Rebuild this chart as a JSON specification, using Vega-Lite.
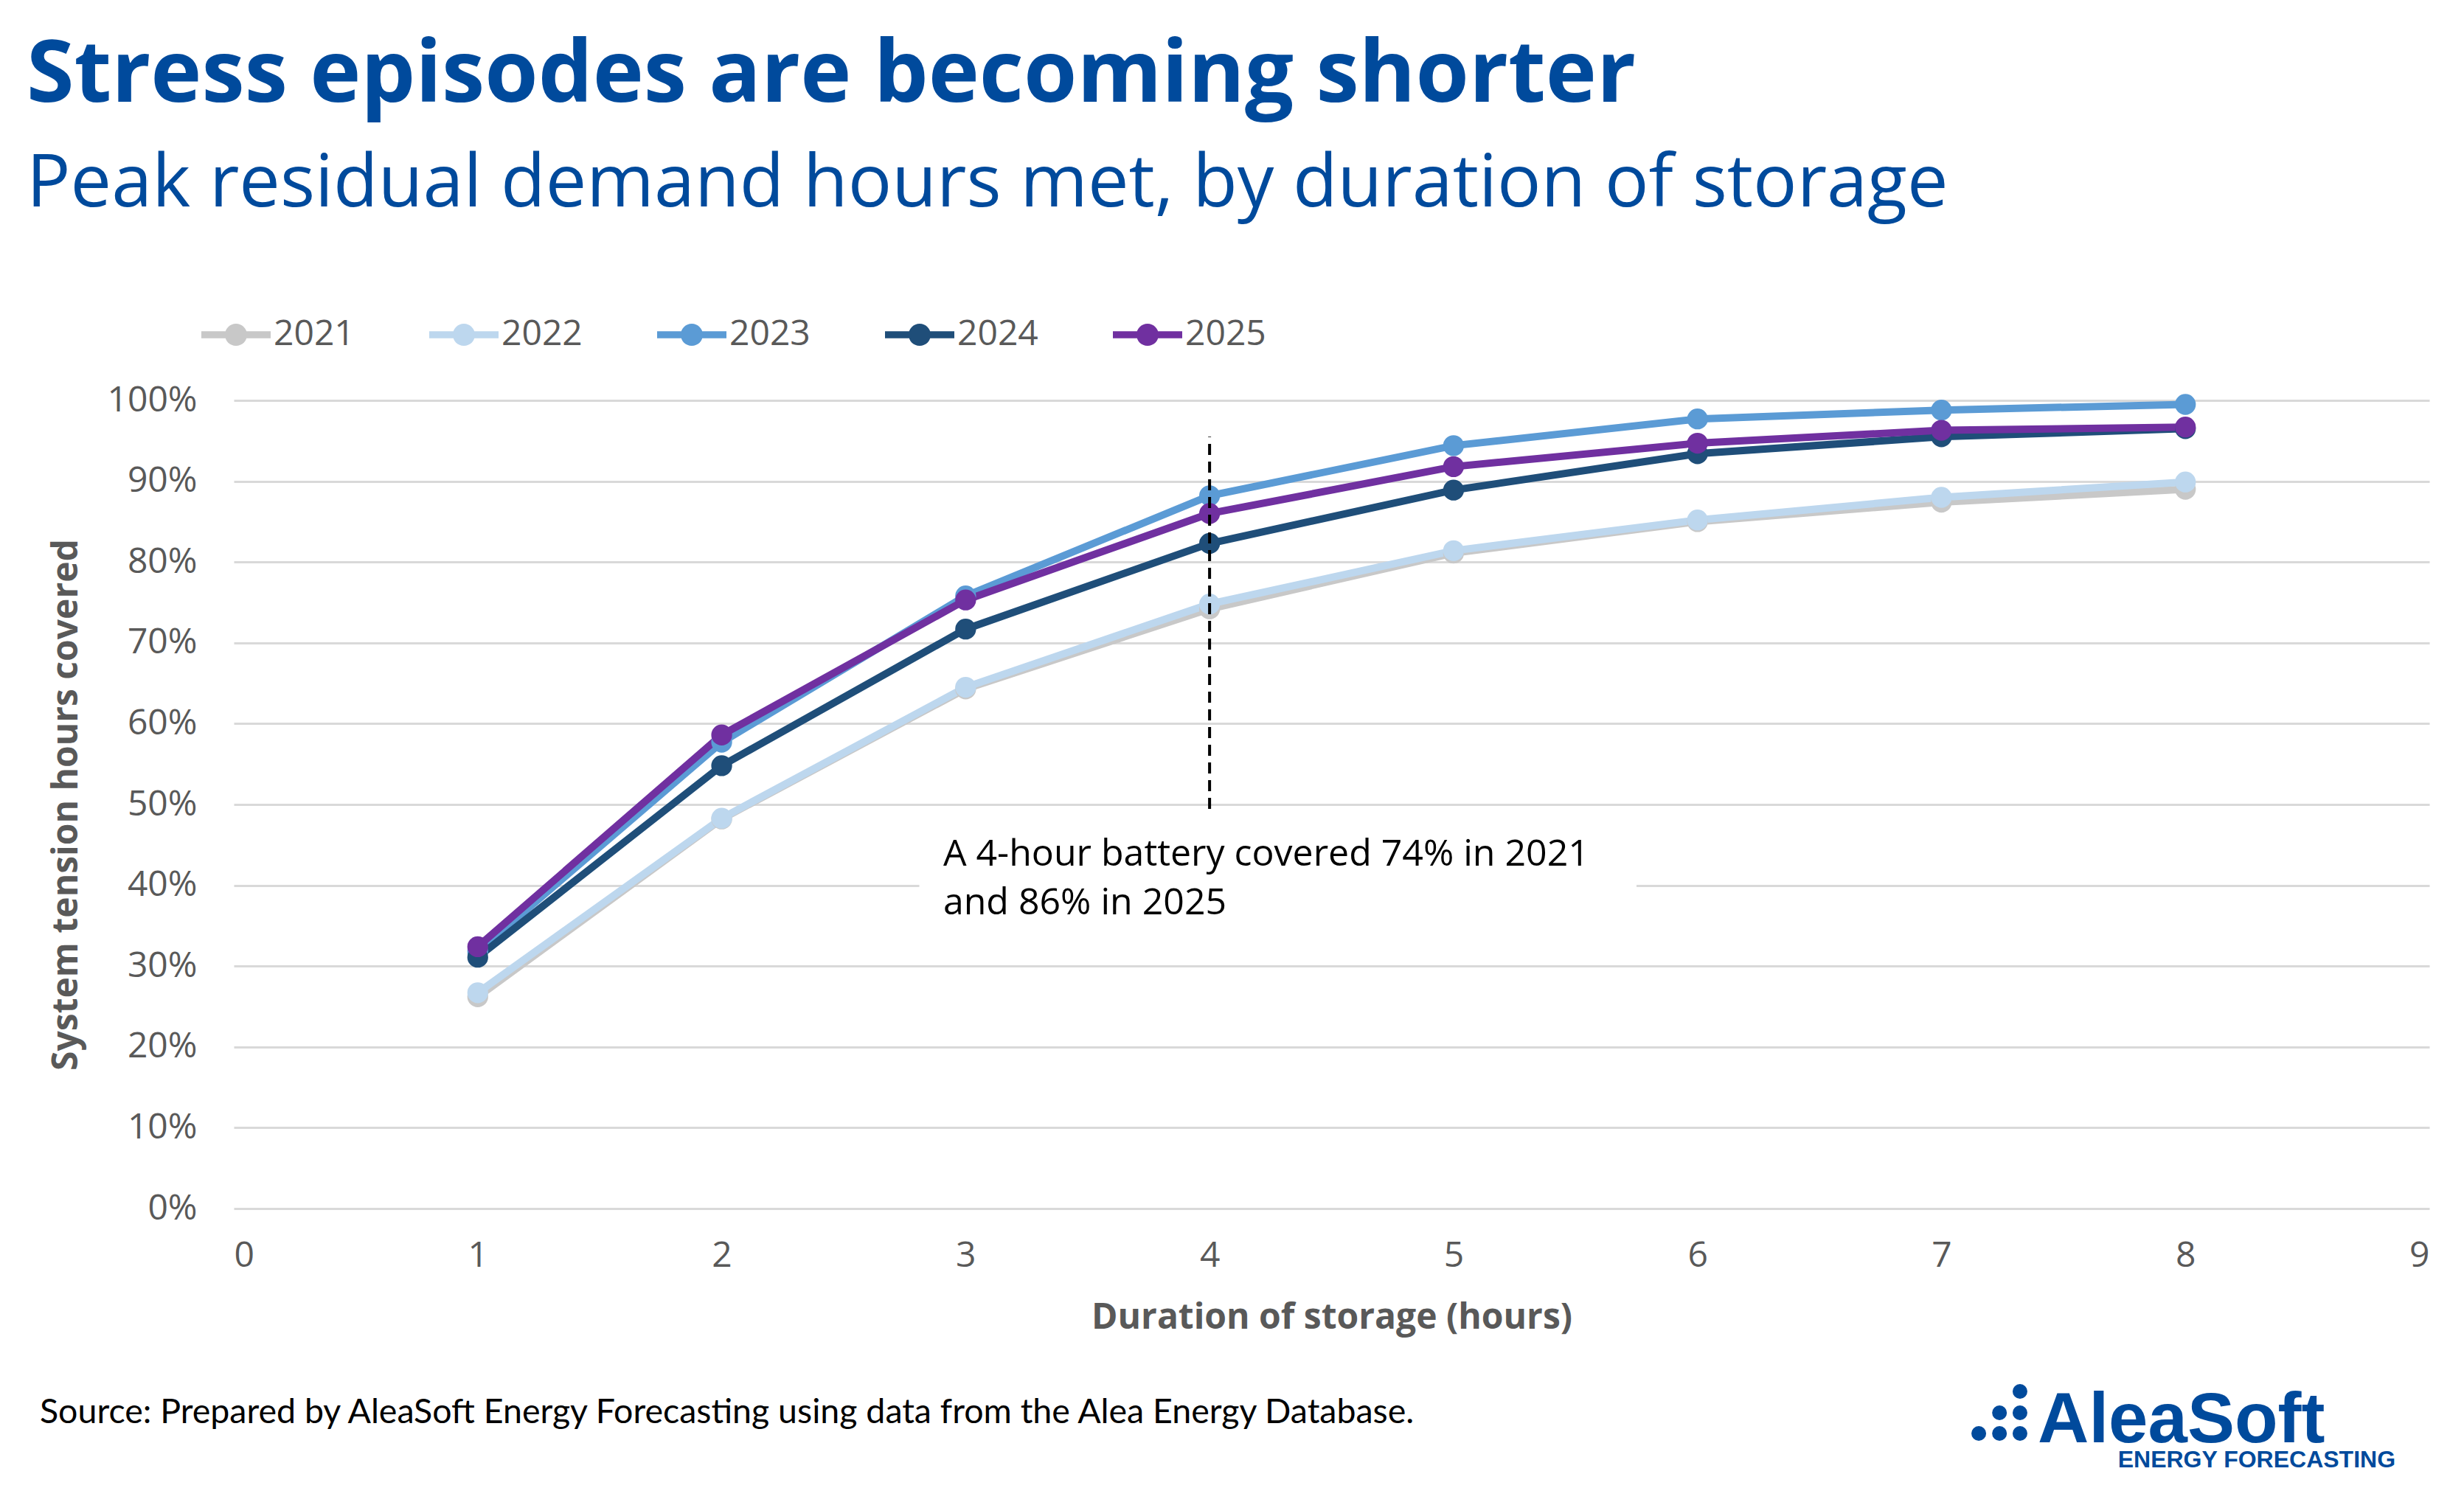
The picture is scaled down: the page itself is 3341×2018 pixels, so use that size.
{
  "$schema": "https://vega.github.io/schema/vega-lite/v6.json",
  "description": "Peak residual demand hours met, by duration of storage",
  "autosize": {"type": "none"},
  "width": 2977,
  "height": 1096,
  "padding": {"left": 317, "top": 543, "right": 47, "bottom": 379},
  "background": "white",

  "title": {
    "text": "Stress episodes are becoming shorter",
    "subtitle": "Peak residual demand hours met, by duration of storage",
    "anchor": "start",
    "frame": "group",
    "dx": -281,
    "font": "Open Sans",
    "fontSize": 117,
    "fontWeight": "bold",
    "color": "#004A9C",
    "subtitleFont": "Open Sans",
    "subtitleFontSize": 99,
    "subtitleColor": "#004A9C",
    "subtitlePadding": 39,
    "offset": 105
  },

  "config": {
    "view": {"stroke": null},
    "font": "Open Sans",
    "axis": {
      "labelFont": "Open Sans",
      "labelFontSize": 48,
      "labelColor": "#595959",
      "titleFont": "Open Sans",
      "titleFontSize": 48,
      "titleFontWeight": "bold",
      "titleColor": "#595959",
      "ticks": false,
      "domain": false
    },
    "legend": {
      "labelFont": "Open Sans",
      "labelFontSize": 48,
      "labelColor": "#595959"
    }
  },

  "datasets": {
    "coverage": [
      {"hours": 1, "year": "2021", "share": 0.262}, {"hours": 2, "year": "2021", "share": 0.482},
      {"hours": 3, "year": "2021", "share": 0.643}, {"hours": 4, "year": "2021", "share": 0.742},
      {"hours": 5, "year": "2021", "share": 0.811}, {"hours": 6, "year": "2021", "share": 0.850},
      {"hours": 7, "year": "2021", "share": 0.874}, {"hours": 8, "year": "2021", "share": 0.890},
      {"hours": 1, "year": "2022", "share": 0.267}, {"hours": 2, "year": "2022", "share": 0.483},
      {"hours": 3, "year": "2022", "share": 0.645}, {"hours": 4, "year": "2022", "share": 0.748},
      {"hours": 5, "year": "2022", "share": 0.814}, {"hours": 6, "year": "2022", "share": 0.852},
      {"hours": 7, "year": "2022", "share": 0.880}, {"hours": 8, "year": "2022", "share": 0.899},
      {"hours": 1, "year": "2023", "share": 0.318}, {"hours": 2, "year": "2023", "share": 0.577},
      {"hours": 3, "year": "2023", "share": 0.758}, {"hours": 4, "year": "2023", "share": 0.882},
      {"hours": 5, "year": "2023", "share": 0.944}, {"hours": 6, "year": "2023", "share": 0.977},
      {"hours": 7, "year": "2023", "share": 0.988}, {"hours": 8, "year": "2023", "share": 0.995},
      {"hours": 1, "year": "2024", "share": 0.311}, {"hours": 2, "year": "2024", "share": 0.548},
      {"hours": 3, "year": "2024", "share": 0.717}, {"hours": 4, "year": "2024", "share": 0.823},
      {"hours": 5, "year": "2024", "share": 0.889}, {"hours": 6, "year": "2024", "share": 0.934},
      {"hours": 7, "year": "2024", "share": 0.955}, {"hours": 8, "year": "2024", "share": 0.965},
      {"hours": 1, "year": "2025", "share": 0.324}, {"hours": 2, "year": "2025", "share": 0.586},
      {"hours": 3, "year": "2025", "share": 0.753}, {"hours": 4, "year": "2025", "share": 0.860},
      {"hours": 5, "year": "2025", "share": 0.918}, {"hours": 6, "year": "2025", "share": 0.947},
      {"hours": 7, "year": "2025", "share": 0.963}, {"hours": 8, "year": "2025", "share": 0.967}
    ],
    "marker": [{"hours": 4, "lo": 0.4945, "hi": 0.955}],
    "notebox": [{"x1": 2.81, "x2": 5.75, "y1": 0.34, "y2": 0.47}],
    "note": [{"hours": 2.908, "share": 0.4247, "lines": ["A 4-hour battery covered 74% in 2021", "and 86% in 2025"]}],
    "source": [{"hours": -0.795, "share": -0.2655, "label": "Source: Prepared by AleaSoft Energy Forecasting using data from the Alea Energy Database."}],
    "logoDots": [
      {"hours": 7.153, "share": -0.2783},
      {"hours": 7.238, "share": -0.2527}, {"hours": 7.238, "share": -0.2783},
      {"hours": 7.322, "share": -0.2263}, {"hours": 7.322, "share": -0.2527}, {"hours": 7.322, "share": -0.2783}
    ],
    "logoName": [{"hours": 7.395, "share": -0.2892, "label": "AleaSoft"}],
    "logoTag": [{"hours": 8.861, "share": -0.3203, "label": "ENERGY FORECASTING"}]
  },

  "encoding": {
    "x": {
      "field": "hours", "type": "quantitative",
      "scale": {"domain": [0, 9], "nice": false, "zero": false},
      "axis": {"values": [0, 1, 2, 3, 4, 5, 6, 7, 8, 9], "grid": false, "labelPadding": 40, "titlePadding": 36},
      "title": "Duration of storage (hours)"
    },
    "y": {
      "field": "share", "type": "quantitative",
      "scale": {"domain": [0, 1], "nice": false},
      "axis": {
        "values": [0, 0.1, 0.2, 0.3, 0.4, 0.5, 0.6, 0.7, 0.8, 0.9, 1],
        "format": ".0%",
        "gridColor": "#D9D9D9",
        "gridWidth": 3,
        "labelPadding": 50,
        "titleX": -227,
        "titleY": 548,
        "titleBaseline": "middle"
      },
      "title": "System tension hours covered"
    }
  },

  "layer": [
    {
      "data": {"name": "notebox"},
      "mark": {"type": "rect", "color": "white"},
      "encoding": {
        "x": {"field": "x1", "type": "quantitative"},
        "x2": {"field": "x2"},
        "y": {"field": "y1", "type": "quantitative"},
        "y2": {"field": "y2"}
      }
    },
    {
      "data": {"name": "coverage"},
      "mark": {"type": "line", "strokeWidth": 10},
      "encoding": {
        "color": {
          "field": "year", "type": "nominal",
          "scale": {
            "domain": ["2021", "2022", "2023", "2024", "2025"],
            "range": ["#C8C8C8", "#BDD7EE", "#5B9BD5", "#1F4E79", "#7030A0"]
          },
          "legend": {
            "orient": "none",
            "direction": "horizontal",
            "legendX": -44,
            "legendY": -136,
            "title": null,
            "padding": 0,
            "symbolType": "M-1,-0.1L-0.3,-0.1L-0.3,0.1L-1,0.1Z M0.3,-0.1L1,-0.1L1,0.1L0.3,0.1Z M0.32,0A0.32,0.32 0 1,1 -0.32,0A0.32,0.32 0 1,1 0.32,0Z",
            "symbolSize": 8836,
            "symbolStrokeWidth": 0,
            "labelOffset": 4,
            "columnPadding": 101,
            "encode": {
              "symbols": {"update": {"fill": {"scale": "color", "field": "value"}, "fillOpacity": {"value": 1}}}
            }
          }
        }
      }
    },
    {
      "data": {"name": "coverage"},
      "mark": {"type": "point", "filled": true, "size": 800, "opacity": 1},
      "encoding": {
        "color": {"field": "year", "type": "nominal"}
      }
    },
    {
      "data": {"name": "marker"},
      "mark": {"type": "rule", "color": "black", "strokeWidth": 4, "strokeDash": [15, 9]},
      "encoding": {
        "y": {"field": "lo", "type": "quantitative"},
        "y2": {"field": "hi"}
      }
    },
    {
      "data": {"name": "note"},
      "mark": {"type": "text", "align": "left", "baseline": "alphabetic", "font": "Open Sans", "fontSize": 50, "lineHeight": 66, "color": "black"},
      "encoding": {"text": {"field": "lines"}}
    },
    {
      "data": {"name": "source"},
      "mark": {"type": "text", "align": "left", "baseline": "alphabetic", "font": "Lato", "fontSize": 46.5, "color": "black"},
      "encoding": {"text": {"field": "label"}}
    },
    {
      "data": {"name": "logoDots"},
      "mark": {"type": "circle", "size": 400, "color": "#004A9C", "opacity": 1}
    },
    {
      "data": {"name": "logoName"},
      "mark": {"type": "text", "align": "left", "baseline": "alphabetic", "font": "Liberation Sans", "fontWeight": "bold", "fontSize": 96, "color": "#004A9C"},
      "encoding": {"text": {"field": "label"}}
    },
    {
      "data": {"name": "logoTag"},
      "mark": {"type": "text", "align": "right", "baseline": "alphabetic", "font": "Liberation Sans", "fontWeight": "bold", "fontSize": 32, "color": "#004A9C"},
      "encoding": {"text": {"field": "label"}}
    }
  ]
}
